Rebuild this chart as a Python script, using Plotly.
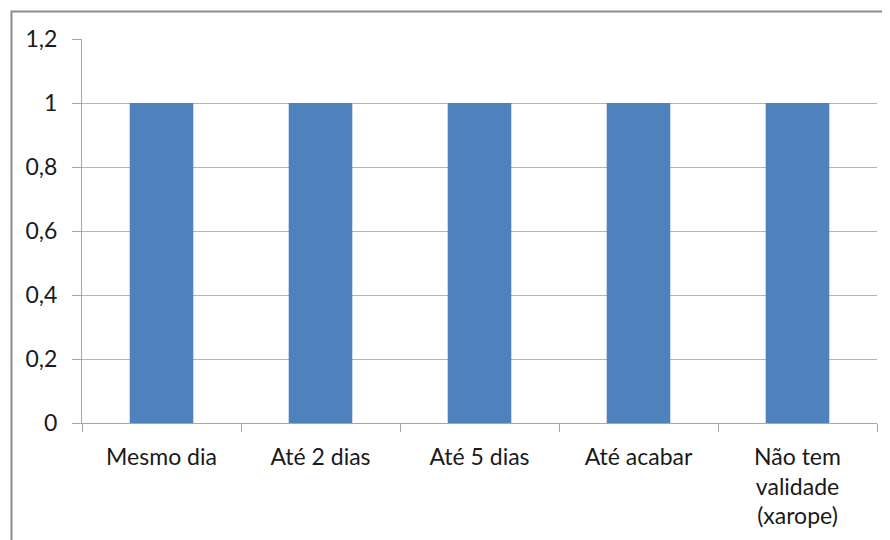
import plotly.graph_objects as go

categories = ["Mesmo dia", "Até 2 dias", "Até 5 dias", "Até acabar", "Não tem<br>validade<br>(xarope)"]
values = [1, 1, 1, 1, 1]
y_ticks = [0, 0.2, 0.4, 0.6, 0.8, 1.0, 1.2]

fig = go.Figure(go.Bar(x=categories, y=values, marker=dict(color="#4F81BD", line=dict(width=0)), width=0.4))

font = dict(family="Lato, Open Sans, sans-serif", size=23, color="#1a1a1a")

# page has an 8px body margin; margins compensate for it
L, T, R, B = 74, 31, 21, 125
plot_w = 890 - L - R
plot_h = 540 - T - B

fig.update_layout(
    width=890, height=540,
    margin=dict(l=L, r=R, t=T, b=B),
    paper_bgcolor="white", plot_bgcolor="white",
    separators=",.",
    font=font,
    showlegend=False,
    xaxis=dict(
        type="category", tickson="boundaries", ticks="outside", ticklen=8,
        tickcolor="#a6a6a6", showline=True, linecolor="#a6a6a6", linewidth=1,
        showgrid=False, tickfont=font, ticklabelstandoff=13, automargin=False,
    ),
    yaxis=dict(
        range=[0, 1.2], tickvals=y_ticks, tickformat=",.1~f",
        ticks="outside", ticklen=9, tickcolor="#a6a6a6",
        showline=True, linecolor="#a6a6a6", linewidth=1,
        showgrid=True, gridcolor="#b4b4b4", gridwidth=1,
        zeroline=False, tickfont=font, ticklabelstandoff=10, automargin=False,
    ),
    shapes=[dict(type="rect", xref="paper", yref="paper",
                 x0=(3.5 - L) / plot_w, x1=1.3, y0=-0.6, y1=1 + (T - 3.5) / plot_h,
                 line=dict(color="#8c8c8c", width=2), fillcolor="rgba(0,0,0,0)", layer="below")],
)

fig.write_html("out.html")
